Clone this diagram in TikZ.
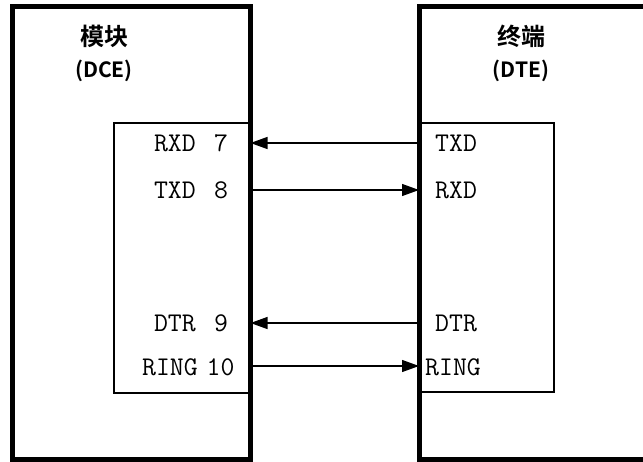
\documentclass[tikz,border=0pt]{standalone}
\usepackage{fontspec}
\newfontfamily\cjk{Noto Sans CJK SC}[BoldFont={Noto Sans CJK SC Bold}]
\usetikzlibrary{arrows.meta}
\begin{document}
\begin{tikzpicture}[x=1pt,y=-1pt,
  outerbox/.style={draw, line width=5pt, inner sep=0pt, outer sep=0pt},
  innerbox/.style={draw, line width=1.3pt, inner sep=0pt, outer sep=0pt},
  head/.style={font=\cjk\bfseries\fontsize{24}{24}\selectfont, inner sep=0pt},
  headsub/.style={font=\cjk\bfseries\fontsize{21}{21}\selectfont, inner sep=0pt},
  sig/.style={font=\ttfamily\fontsize{27}{27}\selectfont, inner sep=0pt},
  arr/.style={line width=1.2pt, -{Triangle[length=17pt,width=12pt]}}]
\useasboundingbox (0,0) rectangle (643,461);
\clip (0,0) rectangle (643,461);
% inner boxes
\node[innerbox, minimum width=136pt, minimum height=270pt] (li) at (182,258) {};
\node[innerbox, minimum width=135pt, minimum height=269pt] (ri) at (486.5,257.5) {};
% outer boxes
\node[outerbox, minimum width=238pt, minimum height=452.5pt] (dce) at (131.5,232.75) {};
\node[outerbox, minimum width=238pt, minimum height=452.5pt] (dte) at (538,232.75) {};
% headings
\node[head] (h1) at (104,36) {模块};
\node[headsub] (h1b) at (104,71) {(DCE)};
\node[head] (h2) at (521,36) {终端};
\node[headsub] (h2b) at (521,71) {(DTE)};
% left labels
\node[sig, anchor=base east] (l1) at (196,151) {RXD};
\node[sig, anchor=base east] (l2) at (196,198) {TXD};
\node[sig, anchor=base east] (l3) at (196,331) {DTR};
\node[sig, anchor=base east] (l4) at (198,375) {RING};
\node[sig, anchor=base] (n1) at (221,151) {7};
\node[sig, anchor=base] (n2) at (221,198) {8};
\node[sig, anchor=base] (n3) at (221,331) {9};
\node[sig, anchor=base] (n4) at (220.5,375) {10};
% right labels
\node[sig, anchor=base west] (r1) at (435,151) {TXD};
\node[sig, anchor=base west] (r2) at (435,198) {RXD};
\node[sig, anchor=base west] (r3) at (435,331) {DTR};
\node[sig, anchor=base west] (r4) at (425,375) {RING};
% arrow rows
\coordinate (y1) at (0,143);
\coordinate (y2) at (0,190);
\coordinate (y3) at (0,323);
\coordinate (y4) at (0,366);
\draw[arr] (y1 -| dte.west) -- (y1 -| dce.east);
\draw[arr] (y2 -| dce.east) -- (y2 -| dte.west);
\draw[arr] (y3 -| dte.west) -- (y3 -| dce.east);
\draw[arr] (y4 -| dce.east) -- (y4 -| dte.west);
\end{tikzpicture}
\end{document}
